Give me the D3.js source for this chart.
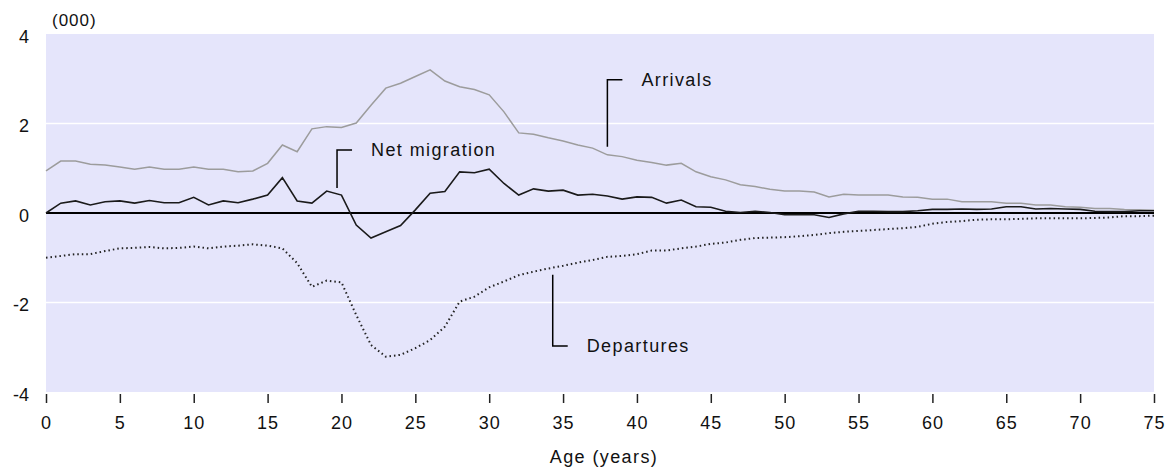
<!DOCTYPE html>
<html>
<head>
<meta charset="utf-8">
<script src="https://cdn.jsdelivr.net/npm/d3@7"></script>
<style>
  body { margin: 0; background: #fff; }
  text { font-family: Arial, "Liberation Sans", sans-serif; fill: #111; }
</style>
</head>
<body>
<div id="chart"></div>
<script>
// ages 0..75 (thousands of people on the y axis)
var ages = [0,1,2,3,4,5,6,7,8,9,10,11,12,13,14,15,16,17,18,19,20,21,22,23,24,25,26,27,28,29,30,31,32,33,34,35,36,37,38,39,40,41,42,43,44,45,46,47,48,49,50,51,52,53,54,55,56,57,58,59,60,61,62,63,64,65,66,67,68,69,70,71,72,73,74,75];

var arrivals = [0.94,1.16,1.16,1.09,1.07,1.03,0.98,1.03,0.98,0.98,1.03,0.98,0.98,0.92,0.94,1.11,1.52,1.37,1.88,1.93,
  1.91,2.01,2.41,2.79,2.90,3.05,3.20,2.95,2.82,2.76,2.64,2.26,1.79,1.76,1.68,1.61,1.52,1.45,1.30,1.26,
  1.18,1.13,1.07,1.11,0.92,0.81,0.74,0.63,0.59,0.53,0.49,0.49,0.47,0.36,0.42,0.40,0.40,0.40,0.36,0.35,
  0.31,0.31,0.25,0.25,0.25,0.22,0.22,0.18,0.18,0.14,0.13,0.10,0.10,0.08,0.07,0.06];

var netMigration = [0.00,0.22,0.27,0.18,0.25,0.27,0.22,0.28,0.23,0.23,0.35,0.18,0.27,0.23,0.31,0.40,0.79,0.27,0.22,0.49,
  0.40,-0.27,-0.56,-0.42,-0.28,0.07,0.44,0.48,0.92,0.90,0.98,0.66,0.40,0.54,0.49,0.51,0.40,0.42,0.38,0.31,
  0.36,0.35,0.22,0.29,0.14,0.13,0.04,0.01,0.04,0.01,-0.04,-0.04,-0.04,-0.10,-0.02,0.04,0.04,0.03,0.03,0.05,
  0.08,0.08,0.09,0.08,0.09,0.14,0.14,0.09,0.10,0.09,0.08,0.04,0.03,0.03,0.05,0.05];

var departures = [-1.00,-0.96,-0.92,-0.92,-0.85,-0.79,-0.78,-0.76,-0.79,-0.78,-0.75,-0.79,-0.75,-0.73,-0.70,-0.73,-0.79,-1.12,-1.65,-1.51,
  -1.55,-2.28,-2.95,-3.21,-3.17,-3.02,-2.84,-2.54,-1.98,-1.87,-1.66,-1.53,-1.39,-1.31,-1.24,-1.18,-1.11,-1.05,-0.98,-0.96,
  -0.92,-0.84,-0.84,-0.79,-0.75,-0.69,-0.66,-0.60,-0.56,-0.55,-0.54,-0.52,-0.49,-0.45,-0.42,-0.40,-0.38,-0.36,-0.34,-0.31,
  -0.24,-0.20,-0.18,-0.15,-0.14,-0.14,-0.13,-0.12,-0.12,-0.12,-0.12,-0.11,-0.10,-0.07,-0.07,-0.06];

var xTicks = [0,5,10,15,20,25,30,35,40,45,50,55,60,65,70,75];
var yTicks = [-4,-2,0,2,4];

// callout labels: leader goes from the curve (from) up/down to the text (to)
var labels = [
  { name: "Arrivals", age: 38, from: 1.48, to: 2.98 },
  { name: "Net migration", age: 19.7, from: 0.56, to: 1.41 },
  { name: "Departures", age: 34.3, from: -1.38, to: -2.97 }
];

var margin = { top: 34, right: 16, bottom: 76, left: 46 };
var width = 1170 - margin.left - margin.right;
var height = 468 - margin.top - margin.bottom;

var svg = d3.select("#chart")
  .append("svg")
  .attr("width", 1170)
  .attr("height", 468);

var g = svg.append("g")
  .attr("transform", "translate(" + margin.left + "," + margin.top + ")");

var xScale = d3.scaleLinear().domain([0, 75]).range([0, width]);
var yScale = d3.scaleLinear().domain([-4, 4]).range([height, 0]);

// plot background
g.append("rect")
  .attr("width", width)
  .attr("height", height)
  .attr("fill", "#e5e5fb");

// white gridlines
g.selectAll(".grid")
  .data(yTicks.filter(function(d) { return d !== 0 && Math.abs(d) !== 4; }))
  .enter().append("line")
  .attr("x1", 0).attr("x2", width)
  .attr("y1", function(d) { return yScale(d); })
  .attr("y2", function(d) { return yScale(d); })
  .attr("stroke", "#fff")
  .attr("stroke-width", 1.5);

// x axis
var xAxis = g.append("g")
  .attr("transform", "translate(0," + (height + 2) + ")")
  .call(d3.axisBottom(xScale).tickValues(xTicks).tickSize(9).tickPadding(13).tickFormat(function(d) { return String(d); }));
xAxis.select(".domain").remove();
xAxis.selectAll(".tick line").attr("stroke", "#222").attr("stroke-width", 1.5);
xAxis.selectAll("text").attr("font-size", 18).attr("letter-spacing", 1).attr("fill", "#111");

// y axis labels
var yAxis = g.append("g")
  .call(d3.axisLeft(yScale).tickValues(yTicks).tickSize(0).tickPadding(17).tickFormat(function(d) { return String(d); }));
yAxis.select(".domain").remove();
yAxis.selectAll("text").attr("font-size", 18).attr("fill", "#111").attr("dy", "0.45em");

// zero line
g.append("line")
  .attr("x1", 0).attr("x2", width)
  .attr("y1", yScale(0)).attr("y2", yScale(0))
  .attr("stroke", "#000")
  .attr("stroke-width", 2);

var line = function(values) {
  return d3.line()
    .x(function(d, i) { return xScale(ages[i]); })
    .y(function(d) { return yScale(d); })(values);
};

g.append("path")
  .attr("d", line(arrivals))
  .attr("fill", "none")
  .attr("stroke", "#9c9c9c")
  .attr("stroke-width", 1.5);

g.append("path")
  .attr("d", line(departures))
  .attr("fill", "none")
  .attr("stroke", "#222")
  .attr("stroke-width", 2)
  .attr("stroke-dasharray", "1.5,3");

g.append("path")
  .attr("d", line(netMigration))
  .attr("fill", "none")
  .attr("stroke", "#1a1a1a")
  .attr("stroke-width", 1.6);

// callouts
labels.forEach(function(l) {
  var x0 = xScale(l.age);
  var y0 = yScale(l.from);
  var y1 = yScale(l.to);
  g.append("path")
    .attr("d", "M" + x0 + "," + y0 + "V" + y1 + "h15")
    .attr("fill", "none")
    .attr("stroke", "#000")
    .attr("stroke-width", 1.5);
  g.append("text")
    .attr("x", x0 + 34)
    .attr("y", y1)
    .attr("dy", "0.35em")
    .attr("font-size", 18)
    .attr("letter-spacing", 1.4)
    .text(l.name);
});

// unit label
svg.append("text")
  .attr("x", 52)
  .attr("y", 20)
  .attr("dy", "0.35em")
  .attr("font-size", 17)
  .attr("letter-spacing", 1)
  .text("(000)");

// x axis title
svg.append("text")
  .attr("x", margin.left + width / 2 + 4)
  .attr("y", 457)
  .attr("dy", "0.35em")
  .attr("text-anchor", "middle")
  .attr("font-size", 18)
  .attr("letter-spacing", 1.4)
  .text("Age (years)");
</script>
</body>
</html>
